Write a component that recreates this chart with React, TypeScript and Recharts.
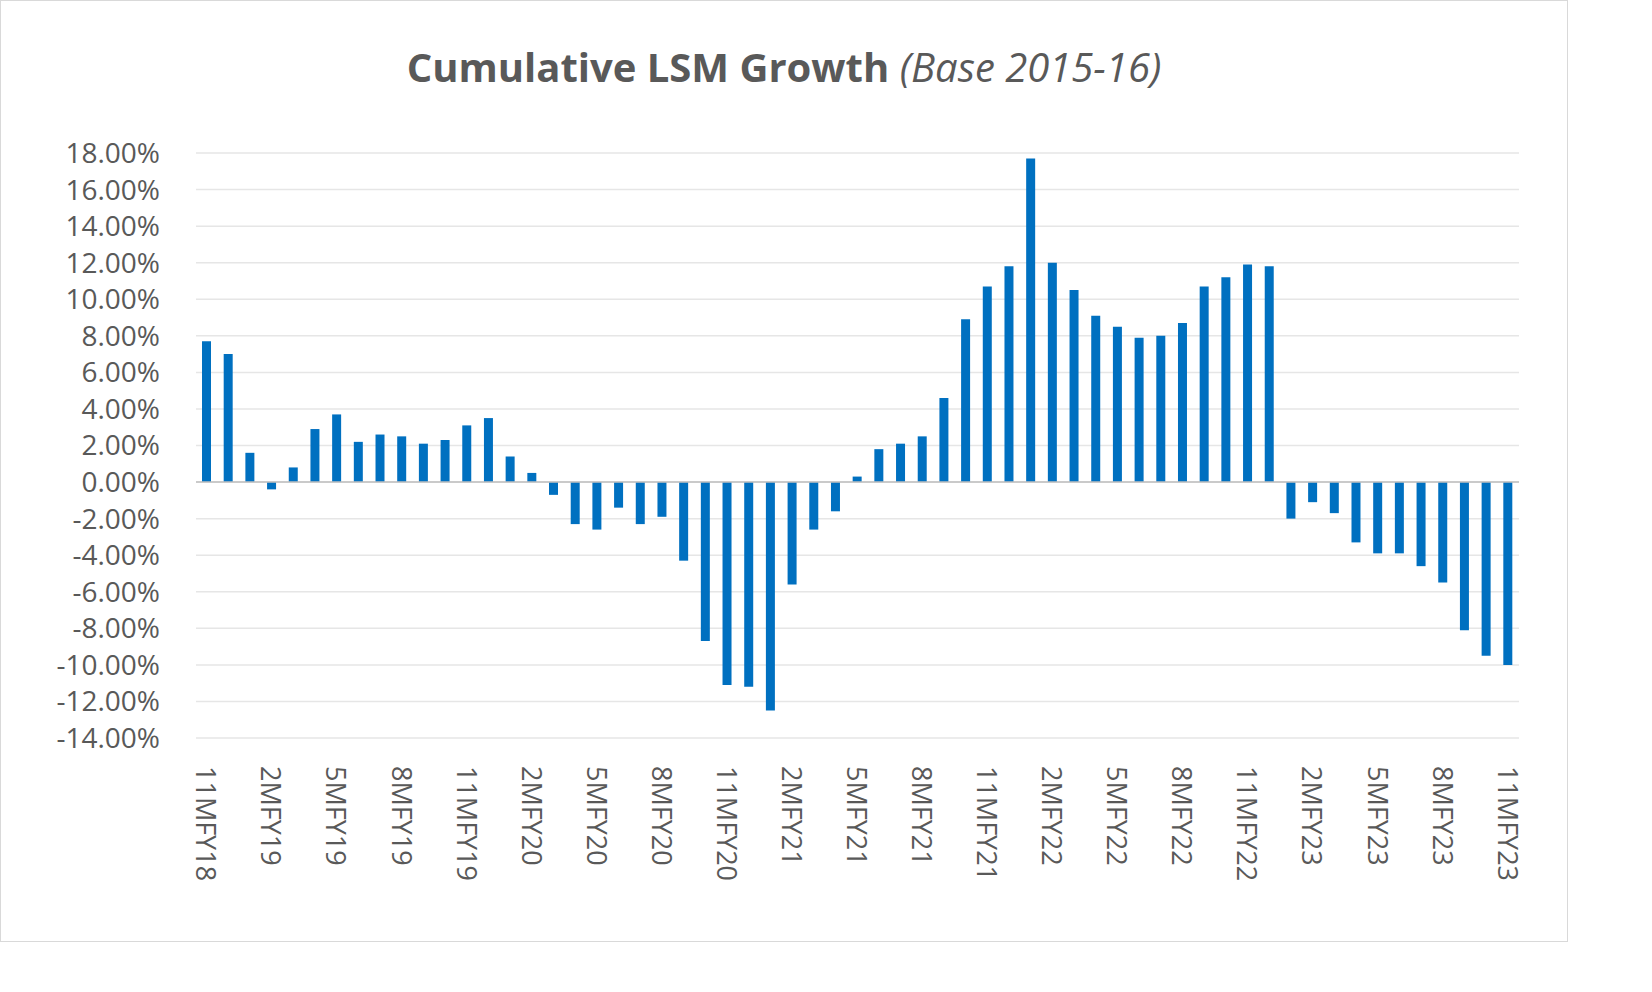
import React from "react";
import { BarChart, Bar, XAxis, YAxis, CartesianGrid, ReferenceLine } from "recharts";

const categories = [
  "11MFY18","12MFY18","1MFY19","2MFY19","3MFY19","4MFY19","5MFY19","6MFY19","7MFY19","8MFY19","9MFY19","10MFY19",
  "11MFY19","12MFY19","1MFY20","2MFY20","3MFY20","4MFY20","5MFY20","6MFY20","7MFY20","8MFY20","9MFY20","10MFY20",
  "11MFY20","12MFY20","1MFY21","2MFY21","3MFY21","4MFY21","5MFY21","6MFY21","7MFY21","8MFY21","9MFY21","10MFY21",
  "11MFY21","12MFY21","1MFY22","2MFY22","3MFY22","4MFY22","5MFY22","6MFY22","7MFY22","8MFY22","9MFY22","10MFY22",
  "11MFY22","12MFY22","1MFY23","2MFY23","3MFY23","4MFY23","5MFY23","6MFY23","7MFY23","8MFY23","9MFY23","10MFY23",
  "11MFY23",
];
const growth = [
  7.7, 7.0, 1.6, -0.4, 0.8, 2.9, 3.7, 2.2, 2.6, 2.5, 2.1, 2.3,
  3.1, 3.5, 1.4, 0.5, -0.7, -2.3, -2.6, -1.4, -2.3, -1.9, -4.3, -8.7,
  -11.1, -11.2, -12.5, -5.6, -2.6, -1.6, 0.3, 1.8, 2.1, 2.5, 4.6, 8.9,
  10.7, 11.8, 17.7, 12.0, 10.5, 9.1, 8.5, 7.9, 8.0, 8.7, 10.7, 11.2,
  11.9, 11.8, -2.0, -1.1, -1.7, -3.3, -3.9, -3.9, -4.6, -5.5, -8.1, -9.5,
  -10.0,
];
const yTicks = [-14, -12, -10, -8, -6, -4, -2, 0, 2, 4, 6, 8, 10, 12, 14, 16, 18];

const data = categories.map((c, i) => ({ name: c, value: growth[i] }));
const FONT = "'Open Sans', 'Liberation Sans', sans-serif";

const XTick = (props: any) => {
  const { x, y, payload } = props;
  return (
    <text x={x} y={y} transform={`rotate(90, ${x}, ${y})`} textAnchor="start" dominantBaseline="central"
      fill="#595959" fontSize={27} fontFamily={FONT}>
      {payload.value}
    </text>
  );
};

export default function App() {
  return (
    <div style={{ position: "absolute", left: 0, top: 0, width: 1566, height: 940, border: "1px solid #d9d9d9", background: "#fff", fontFamily: FONT }}>
      <div style={{ position: "absolute", top: 38, left: 0, width: "100%", textAlign: "center", fontSize: 40, color: "#595959" }}>
        <b>Cumulative LSM Growth</b> <i>(Base 2015-16)</i>
      </div>
      <BarChart width={1566} height={940} data={data} margin={{ top: 152, right: 48, left: 0, bottom: 0 }}>
        <CartesianGrid vertical={false} stroke="#e6e6e6" strokeWidth={1.5} />
        <XAxis dataKey="name" interval={2} axisLine={false} tickLine={false} height={203} tick={<XTick />} tickMargin={22} />
        <YAxis width={195} domain={[-14, 18]} ticks={yTicks} interval={0} axisLine={false} tickLine={false} tickSize={0} tickMargin={36}
          tickFormatter={(v: number) => v.toFixed(2) + "%"} tick={{ fill: "#595959", fontSize: 28, fontFamily: FONT }} />
        <ReferenceLine y={0} stroke="#bfbfbf" strokeWidth={1.5} />
        <Bar dataKey="value" fill="#0070C0" barSize={9} isAnimationActive={false} />
      </BarChart>
    </div>
  );
}
